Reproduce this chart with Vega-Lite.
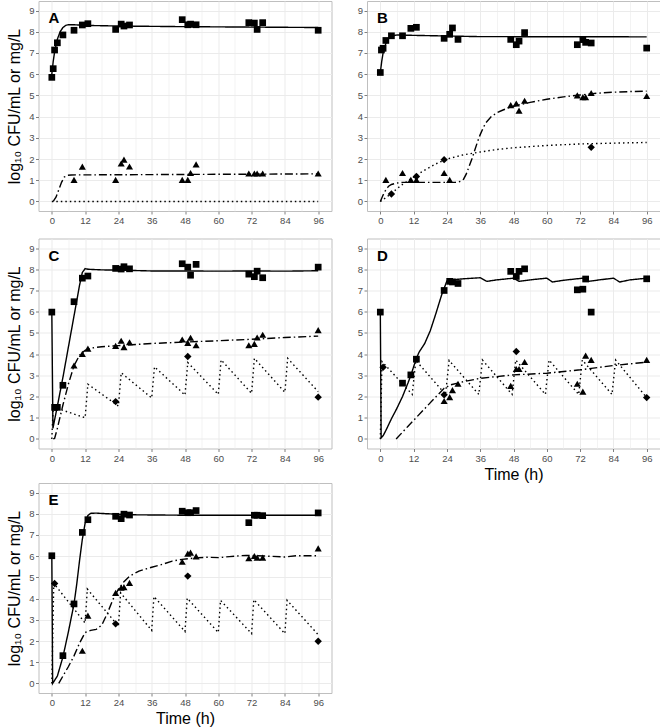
{
"$schema": "https://vega.github.io/schema/vega-lite/v6.json",
"padding": {"left": 5.5, "top": 0, "right": 0, "bottom": 0},
"background": "white",
"config": {
  "font": "Liberation Sans",
  "view": {"stroke": "#bfbfbf", "strokeWidth": 1},
  "axis": {"labelFont": "Liberation Sans", "labelFontSize": 9.5, "labelColor": "#4d4d4d", "tickColor": "#808080", "tickSize": 3, "tickCount": 100, "labelPadding": 1.5, "labelOverlap": false, "labelFlush": false, "domain": false, "gridColor": "#ebebeb", "titleFont": "Liberation Sans", "titleFontSize": 16, "titleFontWeight": "normal", "titleColor": "black"},
  "axisY": {"titlePadding": 6},
  "axisX": {"titlePadding": 3.5},
  "title": {"anchor": "start", "frame": "group", "font": "Liberation Sans", "fontSize": 15, "fontWeight": "bold", "color": "black", "offset": -25, "baseline": "alphabetic", "dx": 10}
},
"datasets": {
"ln": [
{"p":"A","s":"N","t":0,"v":6.0},{"p":"A","s":"N","t":0.5,"v":6.6},{"p":"A","s":"N","t":1,"v":7.05},{"p":"A","s":"N","t":2,"v":7.65},{"p":"A","s":"N","t":3,"v":8.0},{"p":"A","s":"N","t":4,"v":8.2},{"p":"A","s":"N","t":5,"v":8.3},{"p":"A","s":"N","t":6,"v":8.33},{"p":"A","s":"N","t":8,"v":8.33},{"p":"A","s":"N","t":12,"v":8.3},{"p":"A","s":"N","t":24,"v":8.27},{"p":"A","s":"N","t":48,"v":8.24},{"p":"A","s":"N","t":72,"v":8.22},{"p":"A","s":"N","t":96,"v":8.2},
{"p":"A","s":"R","t":0.5,"v":0},{"p":"A","s":"R","t":1.5,"v":0.2},{"p":"A","s":"R","t":2.5,"v":0.55},{"p":"A","s":"R","t":3.5,"v":0.9},{"p":"A","s":"R","t":4.5,"v":1.15},{"p":"A","s":"R","t":5.5,"v":1.23},{"p":"A","s":"R","t":7,"v":1.25},{"p":"A","s":"R","t":96,"v":1.3},
{"p":"A","s":"C","t":0,"v":0},{"p":"A","s":"C","t":96,"v":0},
{"p":"B","s":"N","t":0,"v":6.08},{"p":"B","s":"N","t":0.5,"v":6.6},{"p":"B","s":"N","t":1,"v":7.0},{"p":"B","s":"N","t":2,"v":7.45},{"p":"B","s":"N","t":3,"v":7.68},{"p":"B","s":"N","t":4,"v":7.8},{"p":"B","s":"N","t":6,"v":7.85},{"p":"B","s":"N","t":12,"v":7.83},{"p":"B","s":"N","t":24,"v":7.8},{"p":"B","s":"N","t":36,"v":7.77},{"p":"B","s":"N","t":96,"v":7.76},
{"p":"B","s":"R","t":0,"v":0},{"p":"B","s":"R","t":1,"v":0.3},{"p":"B","s":"R","t":2,"v":0.55},{"p":"B","s":"R","t":3,"v":0.72},{"p":"B","s":"R","t":4,"v":0.8},{"p":"B","s":"R","t":6,"v":0.87},{"p":"B","s":"R","t":8,"v":0.9},{"p":"B","s":"R","t":27,"v":0.9},{"p":"B","s":"R","t":28,"v":0.92},{"p":"B","s":"R","t":29,"v":0.95},{"p":"B","s":"R","t":30,"v":1.05},{"p":"B","s":"R","t":31,"v":1.3},{"p":"B","s":"R","t":32,"v":1.65},{"p":"B","s":"R","t":33,"v":2.0},{"p":"B","s":"R","t":34,"v":2.4},{"p":"B","s":"R","t":35,"v":2.8},{"p":"B","s":"R","t":36,"v":3.15},{"p":"B","s":"R","t":37,"v":3.45},{"p":"B","s":"R","t":38,"v":3.7},{"p":"B","s":"R","t":40,"v":4.0},{"p":"B","s":"R","t":42,"v":4.18},{"p":"B","s":"R","t":44,"v":4.3},{"p":"B","s":"R","t":47,"v":4.45},{"p":"B","s":"R","t":50,"v":4.55},{"p":"B","s":"R","t":54,"v":4.67},{"p":"B","s":"R","t":60,"v":4.82},{"p":"B","s":"R","t":66,"v":4.93},{"p":"B","s":"R","t":72,"v":5.02},{"p":"B","s":"R","t":78,"v":5.1},{"p":"B","s":"R","t":84,"v":5.15},{"p":"B","s":"R","t":90,"v":5.18},{"p":"B","s":"R","t":96,"v":5.2},
{"p":"B","s":"C","t":0,"v":0},{"p":"B","s":"C","t":2,"v":0.18},{"p":"B","s":"C","t":4,"v":0.38},{"p":"B","s":"C","t":6,"v":0.6},{"p":"B","s":"C","t":8,"v":0.8},{"p":"B","s":"C","t":10,"v":0.98},{"p":"B","s":"C","t":12,"v":1.15},{"p":"B","s":"C","t":16,"v":1.48},{"p":"B","s":"C","t":20,"v":1.77},{"p":"B","s":"C","t":24,"v":2.0},{"p":"B","s":"C","t":30,"v":2.2},{"p":"B","s":"C","t":36,"v":2.33},{"p":"B","s":"C","t":42,"v":2.45},{"p":"B","s":"C","t":48,"v":2.53},{"p":"B","s":"C","t":60,"v":2.64},{"p":"B","s":"C","t":72,"v":2.71},{"p":"B","s":"C","t":84,"v":2.75},{"p":"B","s":"C","t":96,"v":2.78},
{"p":"C","s":"N","t":0,"v":6.0},{"p":"C","s":"N","t":0.4,"v":0.5},{"p":"C","s":"N","t":2,"v":1.55},{"p":"C","s":"N","t":4,"v":2.9},{"p":"C","s":"N","t":6,"v":4.35},{"p":"C","s":"N","t":8,"v":5.8},{"p":"C","s":"N","t":10,"v":7.25},{"p":"C","s":"N","t":11,"v":7.85},{"p":"C","s":"N","t":12,"v":8.03},{"p":"C","s":"N","t":13,"v":8.0},{"p":"C","s":"N","t":18,"v":7.97},{"p":"C","s":"N","t":24,"v":7.96},{"p":"C","s":"N","t":36,"v":7.92},{"p":"C","s":"N","t":48,"v":7.92},{"p":"C","s":"N","t":60,"v":7.91},{"p":"C","s":"N","t":72,"v":7.92},{"p":"C","s":"N","t":84,"v":7.91},{"p":"C","s":"N","t":96,"v":7.93},
{"p":"C","s":"R","t":0.5,"v":0},{"p":"C","s":"R","t":1,"v":0.02},{"p":"C","s":"R","t":2,"v":0.5},{"p":"C","s":"R","t":4,"v":1.6},{"p":"C","s":"R","t":6,"v":2.6},{"p":"C","s":"R","t":8,"v":3.45},{"p":"C","s":"R","t":10,"v":3.95},{"p":"C","s":"R","t":12,"v":4.18},{"p":"C","s":"R","t":14,"v":4.28},{"p":"C","s":"R","t":18,"v":4.35},{"p":"C","s":"R","t":24,"v":4.4},{"p":"C","s":"R","t":36,"v":4.5},{"p":"C","s":"R","t":48,"v":4.57},{"p":"C","s":"R","t":60,"v":4.63},{"p":"C","s":"R","t":72,"v":4.7},{"p":"C","s":"R","t":84,"v":4.78},{"p":"C","s":"R","t":96,"v":4.85},
{"p":"C","s":"C","t":0,"v":0},{"p":"C","s":"C","t":0.5,"v":1.5},{"p":"C","s":"C","t":12,"v":1.0},{"p":"C","s":"C","t":13,"v":2.58},{"p":"C","s":"C","t":24,"v":1.55},{"p":"C","s":"C","t":25,"v":3.12},{"p":"C","s":"C","t":36,"v":1.93},{"p":"C","s":"C","t":37,"v":3.4},{"p":"C","s":"C","t":48,"v":2.07},{"p":"C","s":"C","t":49,"v":3.6},{"p":"C","s":"C","t":60,"v":2.1},{"p":"C","s":"C","t":61,"v":3.73},{"p":"C","s":"C","t":72,"v":2.15},{"p":"C","s":"C","t":73,"v":3.8},{"p":"C","s":"C","t":84,"v":2.2},{"p":"C","s":"C","t":85,"v":3.8},{"p":"C","s":"C","t":96,"v":2.23},
{"p":"D","s":"N","t":0,"v":6.0},{"p":"D","s":"N","t":0.3,"v":0.05},{"p":"D","s":"N","t":1,"v":0.15},{"p":"D","s":"N","t":2,"v":0.4},{"p":"D","s":"N","t":4,"v":0.95},{"p":"D","s":"N","t":6,"v":1.45},{"p":"D","s":"N","t":8,"v":2.0},{"p":"D","s":"N","t":10,"v":2.65},{"p":"D","s":"N","t":11,"v":3.0},{"p":"D","s":"N","t":12,"v":3.4},{"p":"D","s":"N","t":13,"v":3.8},{"p":"D","s":"N","t":14,"v":4.1},{"p":"D","s":"N","t":16,"v":4.5},{"p":"D","s":"N","t":18,"v":5.1},{"p":"D","s":"N","t":20,"v":5.9},{"p":"D","s":"N","t":22,"v":6.75},{"p":"D","s":"N","t":23,"v":7.1},{"p":"D","s":"N","t":24,"v":7.45},{"p":"D","s":"N","t":25,"v":7.5},{"p":"D","s":"N","t":30,"v":7.55},{"p":"D","s":"N","t":36,"v":7.6},{"p":"D","s":"N","t":38.4,"v":7.43},{"p":"D","s":"N","t":42,"v":7.5},{"p":"D","s":"N","t":48,"v":7.58},{"p":"D","s":"N","t":50,"v":7.43},{"p":"D","s":"N","t":54,"v":7.5},{"p":"D","s":"N","t":60,"v":7.58},{"p":"D","s":"N","t":62,"v":7.4},{"p":"D","s":"N","t":66,"v":7.48},{"p":"D","s":"N","t":73,"v":7.58},{"p":"D","s":"N","t":75,"v":7.43},{"p":"D","s":"N","t":79,"v":7.5},{"p":"D","s":"N","t":84,"v":7.58},{"p":"D","s":"N","t":86.3,"v":7.4},{"p":"D","s":"N","t":90,"v":7.5},{"p":"D","s":"N","t":96,"v":7.58},
{"p":"D","s":"R","t":5.7,"v":0},{"p":"D","s":"R","t":10,"v":0.6},{"p":"D","s":"R","t":15,"v":1.29},{"p":"D","s":"R","t":20,"v":1.98},{"p":"D","s":"R","t":23,"v":2.39},{"p":"D","s":"R","t":25.3,"v":2.55},{"p":"D","s":"R","t":30,"v":2.7},{"p":"D","s":"R","t":36,"v":2.86},{"p":"D","s":"R","t":48,"v":3.02},{"p":"D","s":"R","t":60,"v":3.1},{"p":"D","s":"R","t":72,"v":3.26},{"p":"D","s":"R","t":84,"v":3.46},{"p":"D","s":"R","t":96,"v":3.62},
{"p":"D","s":"C","t":0,"v":0},{"p":"D","s":"C","t":0.6,"v":3.65},{"p":"D","s":"C","t":11.5,"v":2.1},{"p":"D","s":"C","t":12.8,"v":3.7},{"p":"D","s":"C","t":23.5,"v":2.1},{"p":"D","s":"C","t":24.8,"v":3.7},{"p":"D","s":"C","t":35.5,"v":2.1},{"p":"D","s":"C","t":36.8,"v":3.72},{"p":"D","s":"C","t":47.5,"v":2.1},{"p":"D","s":"C","t":48.8,"v":3.72},{"p":"D","s":"C","t":59.5,"v":2.1},{"p":"D","s":"C","t":60.8,"v":3.72},{"p":"D","s":"C","t":71.5,"v":2.1},{"p":"D","s":"C","t":72.8,"v":3.72},{"p":"D","s":"C","t":83.5,"v":2.1},{"p":"D","s":"C","t":84.8,"v":3.72},{"p":"D","s":"C","t":96,"v":1.95},
{"p":"E","s":"N","t":0,"v":6.02},{"p":"E","s":"N","t":0.3,"v":0},{"p":"E","s":"N","t":2,"v":0.35},{"p":"E","s":"N","t":4,"v":1.25},{"p":"E","s":"N","t":6,"v":2.45},{"p":"E","s":"N","t":8,"v":3.75},{"p":"E","s":"N","t":9,"v":4.7},{"p":"E","s":"N","t":10,"v":5.8},{"p":"E","s":"N","t":11,"v":6.8},{"p":"E","s":"N","t":12,"v":7.55},{"p":"E","s":"N","t":13,"v":7.92},{"p":"E","s":"N","t":14,"v":8.02},{"p":"E","s":"N","t":16,"v":8.03},{"p":"E","s":"N","t":20,"v":8.0},{"p":"E","s":"N","t":30,"v":7.95},{"p":"E","s":"N","t":48,"v":7.93},{"p":"E","s":"N","t":96,"v":7.93},
{"p":"E","s":"R","t":2.5,"v":0},{"p":"E","s":"R","t":4,"v":0.35},{"p":"E","s":"R","t":6,"v":0.8},{"p":"E","s":"R","t":8,"v":1.3},{"p":"E","s":"R","t":10,"v":1.9},{"p":"E","s":"R","t":12,"v":2.4},{"p":"E","s":"R","t":14,"v":2.5},{"p":"E","s":"R","t":16,"v":2.55},{"p":"E","s":"R","t":18,"v":2.75},{"p":"E","s":"R","t":20,"v":3.3},{"p":"E","s":"R","t":22,"v":3.95},{"p":"E","s":"R","t":24,"v":4.45},{"p":"E","s":"R","t":26,"v":4.8},{"p":"E","s":"R","t":28,"v":5.05},{"p":"E","s":"R","t":31.4,"v":5.3},{"p":"E","s":"R","t":36,"v":5.48},{"p":"E","s":"R","t":40,"v":5.62},{"p":"E","s":"R","t":43.4,"v":5.77},{"p":"E","s":"R","t":47,"v":5.85},{"p":"E","s":"R","t":52,"v":5.92},{"p":"E","s":"R","t":56,"v":5.95},{"p":"E","s":"R","t":60,"v":5.93},{"p":"E","s":"R","t":64,"v":5.98},{"p":"E","s":"R","t":70,"v":6.04},{"p":"E","s":"R","t":78,"v":6.0},{"p":"E","s":"R","t":84,"v":5.96},{"p":"E","s":"R","t":88,"v":6.02},{"p":"E","s":"R","t":96,"v":6.02},
{"p":"E","s":"C","t":0,"v":0},{"p":"E","s":"C","t":0.7,"v":4.72},{"p":"E","s":"C","t":12,"v":2.85},{"p":"E","s":"C","t":12.8,"v":4.45},{"p":"E","s":"C","t":24,"v":2.7},{"p":"E","s":"C","t":24.8,"v":4.27},{"p":"E","s":"C","t":36,"v":2.5},{"p":"E","s":"C","t":36.8,"v":4.1},{"p":"E","s":"C","t":48,"v":2.45},{"p":"E","s":"C","t":48.8,"v":4.02},{"p":"E","s":"C","t":60,"v":2.4},{"p":"E","s":"C","t":60.8,"v":3.92},{"p":"E","s":"C","t":72,"v":2.35},{"p":"E","s":"C","t":72.8,"v":3.95},{"p":"E","s":"C","t":84,"v":2.35},{"p":"E","s":"C","t":84.8,"v":3.92},{"p":"E","s":"C","t":96,"v":2.3}
],
"pt": [
{"p":"A","s":"N","t":0,"v":5.85},{"p":"A","s":"N","t":0.5,"v":6.26},{"p":"A","s":"N","t":1,"v":7.14},{"p":"A","s":"N","t":2,"v":7.48},{"p":"A","s":"N","t":4,"v":7.85},{"p":"A","s":"N","t":8,"v":8.07},{"p":"A","s":"N","t":11,"v":8.32},{"p":"A","s":"N","t":13,"v":8.38},{"p":"A","s":"N","t":23,"v":8.11},{"p":"A","s":"N","t":25,"v":8.36},{"p":"A","s":"N","t":26,"v":8.27},{"p":"A","s":"N","t":28,"v":8.32},{"p":"A","s":"N","t":47,"v":8.57},{"p":"A","s":"N","t":49,"v":8.33},{"p":"A","s":"N","t":50,"v":8.36},{"p":"A","s":"N","t":52,"v":8.33},{"p":"A","s":"N","t":71,"v":8.43},{"p":"A","s":"N","t":73,"v":8.41},{"p":"A","s":"N","t":74,"v":8.11},{"p":"A","s":"N","t":76,"v":8.43},{"p":"A","s":"N","t":96,"v":8.07},
{"p":"A","s":"R","t":8,"v":1.02},{"p":"A","s":"R","t":11,"v":1.64},{"p":"A","s":"R","t":23,"v":1.02},{"p":"A","s":"R","t":25,"v":1.79},{"p":"A","s":"R","t":26,"v":1.97},{"p":"A","s":"R","t":28,"v":1.65},{"p":"A","s":"R","t":47,"v":1.02},{"p":"A","s":"R","t":49,"v":1.02},{"p":"A","s":"R","t":50,"v":1.34},{"p":"A","s":"R","t":52,"v":1.75},{"p":"A","s":"R","t":71,"v":1.32},{"p":"A","s":"R","t":73,"v":1.32},{"p":"A","s":"R","t":74,"v":1.32},{"p":"A","s":"R","t":76,"v":1.32},{"p":"A","s":"R","t":96,"v":1.32},
{"p":"B","s":"N","t":0,"v":6.08},{"p":"B","s":"N","t":0.4,"v":7.14},{"p":"B","s":"N","t":1,"v":7.22},{"p":"B","s":"N","t":2,"v":7.59},{"p":"B","s":"N","t":4,"v":7.81},{"p":"B","s":"N","t":8,"v":7.81},{"p":"B","s":"N","t":11,"v":8.16},{"p":"B","s":"N","t":13,"v":8.21},{"p":"B","s":"N","t":23,"v":7.69},{"p":"B","s":"N","t":25,"v":7.88},{"p":"B","s":"N","t":26,"v":8.18},{"p":"B","s":"N","t":28,"v":7.64},{"p":"B","s":"N","t":47,"v":7.64},{"p":"B","s":"N","t":49,"v":7.39},{"p":"B","s":"N","t":50,"v":7.56},{"p":"B","s":"N","t":52,"v":7.96},{"p":"B","s":"N","t":71,"v":7.39},{"p":"B","s":"N","t":73,"v":7.63},{"p":"B","s":"N","t":74,"v":7.5},{"p":"B","s":"N","t":76,"v":7.47},{"p":"B","s":"N","t":96,"v":7.23},
{"p":"B","s":"R","t":2,"v":1.02},{"p":"B","s":"R","t":8,"v":1.34},{"p":"B","s":"R","t":11,"v":1.02},{"p":"B","s":"R","t":13,"v":1.02},{"p":"B","s":"R","t":23,"v":1.34},{"p":"B","s":"R","t":25,"v":1.02},{"p":"B","s":"R","t":47,"v":4.54},{"p":"B","s":"R","t":49,"v":4.62},{"p":"B","s":"R","t":50,"v":4.28},{"p":"B","s":"R","t":52,"v":4.75},{"p":"B","s":"R","t":71,"v":5.0},{"p":"B","s":"R","t":73,"v":4.92},{"p":"B","s":"R","t":74,"v":4.92},{"p":"B","s":"R","t":76,"v":5.11},{"p":"B","s":"R","t":96,"v":4.97},
{"p":"B","s":"C","t":4,"v":0.35},{"p":"B","s":"C","t":13,"v":1.18},{"p":"B","s":"C","t":23,"v":1.97},{"p":"B","s":"C","t":76,"v":2.55},
{"p":"C","s":"N","t":0,"v":5.98},{"p":"C","s":"N","t":1,"v":1.49},{"p":"C","s":"N","t":2,"v":1.49},{"p":"C","s":"N","t":4,"v":2.53},{"p":"C","s":"N","t":8,"v":6.47},{"p":"C","s":"N","t":11,"v":7.58},{"p":"C","s":"N","t":13,"v":7.68},{"p":"C","s":"N","t":23,"v":8.04},{"p":"C","s":"N","t":25,"v":8.01},{"p":"C","s":"N","t":26,"v":8.12},{"p":"C","s":"N","t":28,"v":8.02},{"p":"C","s":"N","t":47,"v":8.26},{"p":"C","s":"N","t":49,"v":8.1},{"p":"C","s":"N","t":50,"v":7.72},{"p":"C","s":"N","t":52,"v":8.23},{"p":"C","s":"N","t":71,"v":7.77},{"p":"C","s":"N","t":73,"v":7.65},{"p":"C","s":"N","t":74,"v":7.91},{"p":"C","s":"N","t":76,"v":7.6},{"p":"C","s":"N","t":96,"v":8.1},
{"p":"C","s":"R","t":8,"v":3.46},{"p":"C","s":"R","t":11,"v":4.01},{"p":"C","s":"R","t":13,"v":4.26},{"p":"C","s":"R","t":23,"v":4.39},{"p":"C","s":"R","t":25,"v":4.63},{"p":"C","s":"R","t":26,"v":4.33},{"p":"C","s":"R","t":28,"v":4.56},{"p":"C","s":"R","t":47,"v":4.69},{"p":"C","s":"R","t":49,"v":4.53},{"p":"C","s":"R","t":50,"v":4.77},{"p":"C","s":"R","t":52,"v":4.42},{"p":"C","s":"R","t":71,"v":4.42},{"p":"C","s":"R","t":73,"v":4.48},{"p":"C","s":"R","t":74,"v":4.78},{"p":"C","s":"R","t":76,"v":4.91},{"p":"C","s":"R","t":96,"v":5.13},
{"p":"C","s":"C","t":23,"v":1.76},{"p":"C","s":"C","t":49,"v":3.89},{"p":"C","s":"C","t":96,"v":1.97},
{"p":"D","s":"N","t":0,"v":5.98},{"p":"D","s":"N","t":8,"v":2.63},{"p":"D","s":"N","t":11,"v":3.02},{"p":"D","s":"N","t":13,"v":3.76},{"p":"D","s":"N","t":23,"v":7.0},{"p":"D","s":"N","t":25,"v":7.43},{"p":"D","s":"N","t":26,"v":7.4},{"p":"D","s":"N","t":28,"v":7.33},{"p":"D","s":"N","t":47,"v":7.9},{"p":"D","s":"N","t":49,"v":7.66},{"p":"D","s":"N","t":50,"v":7.9},{"p":"D","s":"N","t":52,"v":8.02},{"p":"D","s":"N","t":71,"v":7.03},{"p":"D","s":"N","t":73,"v":7.06},{"p":"D","s":"N","t":74,"v":7.54},{"p":"D","s":"N","t":76,"v":5.98},{"p":"D","s":"N","t":96,"v":7.55},
{"p":"D","s":"R","t":23,"v":1.79},{"p":"D","s":"R","t":25,"v":1.97},{"p":"D","s":"R","t":26,"v":2.3},{"p":"D","s":"R","t":28,"v":2.6},{"p":"D","s":"R","t":47,"v":2.5},{"p":"D","s":"R","t":49,"v":3.3},{"p":"D","s":"R","t":50,"v":3.3},{"p":"D","s":"R","t":52,"v":3.63},{"p":"D","s":"R","t":71,"v":2.6},{"p":"D","s":"R","t":73,"v":2.23},{"p":"D","s":"R","t":74,"v":3.93},{"p":"D","s":"R","t":76,"v":3.73},{"p":"D","s":"R","t":96,"v":3.73},
{"p":"D","s":"C","t":1,"v":3.38},{"p":"D","s":"C","t":23,"v":2.08},{"p":"D","s":"C","t":49,"v":4.12},{"p":"D","s":"C","t":96,"v":1.95},
{"p":"E","s":"N","t":0,"v":6.02},{"p":"E","s":"N","t":4,"v":1.31},{"p":"E","s":"N","t":8,"v":3.75},{"p":"E","s":"N","t":11,"v":7.12},{"p":"E","s":"N","t":13,"v":7.72},{"p":"E","s":"N","t":23,"v":7.88},{"p":"E","s":"N","t":25,"v":7.77},{"p":"E","s":"N","t":26,"v":7.98},{"p":"E","s":"N","t":28,"v":7.94},{"p":"E","s":"N","t":47,"v":8.12},{"p":"E","s":"N","t":49,"v":8.05},{"p":"E","s":"N","t":50,"v":8.05},{"p":"E","s":"N","t":52,"v":8.15},{"p":"E","s":"N","t":71,"v":7.58},{"p":"E","s":"N","t":73,"v":7.93},{"p":"E","s":"N","t":74,"v":7.93},{"p":"E","s":"N","t":76,"v":7.91},{"p":"E","s":"N","t":96,"v":8.04},
{"p":"E","s":"R","t":11,"v":1.54},{"p":"E","s":"R","t":13,"v":3.2},{"p":"E","s":"R","t":23,"v":4.27},{"p":"E","s":"R","t":25,"v":4.51},{"p":"E","s":"R","t":26,"v":4.54},{"p":"E","s":"R","t":28,"v":4.74},{"p":"E","s":"R","t":47,"v":5.74},{"p":"E","s":"R","t":49,"v":6.12},{"p":"E","s":"R","t":50,"v":6.17},{"p":"E","s":"R","t":52,"v":5.99},{"p":"E","s":"R","t":71,"v":5.9},{"p":"E","s":"R","t":73,"v":6.01},{"p":"E","s":"R","t":74,"v":5.93},{"p":"E","s":"R","t":76,"v":5.93},{"p":"E","s":"R","t":96,"v":6.37},
{"p":"E","s":"C","t":1,"v":4.71},{"p":"E","s":"C","t":23,"v":2.81},{"p":"E","s":"C","t":49,"v":5.06},{"p":"E","s":"C","t":96,"v":1.99}
]
},
"vconcat": [
{"vconcat": [
{"hconcat": [
{"width": 293, "height": 210, "title": {"text": "A"},
 "layer": [
  {"data": {"name": "ln"}, "transform": [{"filter": "datum.p === 'A'"}], "mark": {"type": "line", "color": "black", "strokeWidth": 1.4},
   "encoding": {
    "x": {"field": "t", "type": "quantitative", "scale": {"domain": [-4.8, 100.8], "nice": false, "zero": false}, "axis": {"title": null, "values": [0,6,12,18,24,30,36,42,48,54,60,66,72,78,84,90,96], "labelExpr": "datum.value % 12 === 0 ? datum.label : ''", "tickOpacity": {"condition": {"test": "datum.value % 12 === 0", "value": 1}, "value": 0}, "gridWidth": {"condition": {"test": "datum.value % 12 === 0", "value": 1}, "value": 0.6}}},
    "y": {"field": "v", "type": "quantitative", "scale": {"domain": [-0.45, 9.45], "nice": false, "zero": false}, "axis": {"title": "log₁₀ CFU/mL or mg/L", "format": "d", "values": [0,0.5,1,1.5,2,2.5,3,3.5,4,4.5,5,5.5,6,6.5,7,7.5,8,8.5,9], "labelExpr": "datum.value % 1 === 0 ? datum.label : ''", "tickOpacity": {"condition": {"test": "datum.value % 1 === 0", "value": 1}, "value": 0}, "gridWidth": {"condition": {"test": "datum.value % 1 === 0", "value": 1}, "value": 0.6}}},
    "strokeDash": {"field": "s", "type": "nominal", "scale": {"domain": ["N","R","C"], "range": [[1,0],[8,3,1.5,3],[1.5,3]]}, "legend": null}}},
  {"data": {"name": "pt"}, "transform": [{"filter": "datum.p === 'A'"}], "mark": {"type": "point", "filled": true, "color": "black", "opacity": 1},
   "encoding": {"x": {"field": "t", "type": "quantitative"}, "y": {"field": "v", "type": "quantitative"},
    "shape": {"field": "s", "type": "nominal", "scale": {"domain": ["N","R","C"], "range": ["square","triangle-up","diamond"]}, "legend": null},
    "size": {"field": "s", "type": "nominal", "scale": {"domain": ["N","R","C"], "range": [45,55,22]}, "legend": null}}}
 ]},
{"width": 293, "height": 210, "title": {"text": "B"},
 "layer": [
  {"data": {"name": "ln"}, "transform": [{"filter": "datum.p === 'B'"}], "mark": {"type": "line", "color": "black", "strokeWidth": 1.4},
   "encoding": {
    "x": {"field": "t", "type": "quantitative", "scale": {"domain": [-4.8, 100.8], "nice": false, "zero": false}, "axis": {"title": null, "values": [0,6,12,18,24,30,36,42,48,54,60,66,72,78,84,90,96], "labelExpr": "datum.value % 12 === 0 ? datum.label : ''", "tickOpacity": {"condition": {"test": "datum.value % 12 === 0", "value": 1}, "value": 0}, "gridWidth": {"condition": {"test": "datum.value % 12 === 0", "value": 1}, "value": 0.6}}},
    "y": {"field": "v", "type": "quantitative", "scale": {"domain": [-0.45, 9.45], "nice": false, "zero": false}, "axis": {"title": null, "format": "d", "values": [0,0.5,1,1.5,2,2.5,3,3.5,4,4.5,5,5.5,6,6.5,7,7.5,8,8.5,9], "labelExpr": "datum.value % 1 === 0 ? datum.label : ''", "tickOpacity": {"condition": {"test": "datum.value % 1 === 0", "value": 1}, "value": 0}, "gridWidth": {"condition": {"test": "datum.value % 1 === 0", "value": 1}, "value": 0.6}}},
    "strokeDash": {"field": "s", "type": "nominal", "scale": {"domain": ["N","R","C"], "range": [[1,0],[8,3,1.5,3],[1.5,3]]}, "legend": null}}},
  {"data": {"name": "pt"}, "transform": [{"filter": "datum.p === 'B'"}], "mark": {"type": "point", "filled": true, "color": "black", "opacity": 1},
   "encoding": {"x": {"field": "t", "type": "quantitative"}, "y": {"field": "v", "type": "quantitative"},
    "shape": {"field": "s", "type": "nominal", "scale": {"domain": ["N","R","C"], "range": ["square","triangle-up","diamond"]}, "legend": null},
    "size": {"field": "s", "type": "nominal", "scale": {"domain": ["N","R","C"], "range": [45,55,22]}, "legend": null}}}
 ]}
], "spacing": 23.5},
{"hconcat": [
{"width": 293, "height": 210, "title": {"text": "C"},
 "layer": [
  {"data": {"name": "ln"}, "transform": [{"filter": "datum.p === 'C'"}], "mark": {"type": "line", "color": "black", "strokeWidth": 1.4},
   "encoding": {
    "x": {"field": "t", "type": "quantitative", "scale": {"domain": [-4.8, 100.8], "nice": false, "zero": false}, "axis": {"title": null, "values": [0,6,12,18,24,30,36,42,48,54,60,66,72,78,84,90,96], "labelExpr": "datum.value % 12 === 0 ? datum.label : ''", "tickOpacity": {"condition": {"test": "datum.value % 12 === 0", "value": 1}, "value": 0}, "gridWidth": {"condition": {"test": "datum.value % 12 === 0", "value": 1}, "value": 0.6}}},
    "y": {"field": "v", "type": "quantitative", "scale": {"domain": [-0.45, 9.45], "nice": false, "zero": false}, "axis": {"title": "log₁₀ CFU/mL or mg/L", "format": "d", "values": [0,0.5,1,1.5,2,2.5,3,3.5,4,4.5,5,5.5,6,6.5,7,7.5,8,8.5,9], "labelExpr": "datum.value % 1 === 0 ? datum.label : ''", "tickOpacity": {"condition": {"test": "datum.value % 1 === 0", "value": 1}, "value": 0}, "gridWidth": {"condition": {"test": "datum.value % 1 === 0", "value": 1}, "value": 0.6}}},
    "strokeDash": {"field": "s", "type": "nominal", "scale": {"domain": ["N","R","C"], "range": [[1,0],[8,3,1.5,3],[1.5,3]]}, "legend": null}}},
  {"data": {"name": "pt"}, "transform": [{"filter": "datum.p === 'C'"}], "mark": {"type": "point", "filled": true, "color": "black", "opacity": 1},
   "encoding": {"x": {"field": "t", "type": "quantitative"}, "y": {"field": "v", "type": "quantitative"},
    "shape": {"field": "s", "type": "nominal", "scale": {"domain": ["N","R","C"], "range": ["square","triangle-up","diamond"]}, "legend": null},
    "size": {"field": "s", "type": "nominal", "scale": {"domain": ["N","R","C"], "range": [45,55,22]}, "legend": null}}}
 ]},
{"width": 293, "height": 210, "title": {"text": "D"},
 "layer": [
  {"data": {"name": "ln"}, "transform": [{"filter": "datum.p === 'D'"}], "mark": {"type": "line", "color": "black", "strokeWidth": 1.4},
   "encoding": {
    "x": {"field": "t", "type": "quantitative", "scale": {"domain": [-4.8, 100.8], "nice": false, "zero": false}, "axis": {"title": "Time (h)", "values": [0,6,12,18,24,30,36,42,48,54,60,66,72,78,84,90,96], "labelExpr": "datum.value % 12 === 0 ? datum.label : ''", "tickOpacity": {"condition": {"test": "datum.value % 12 === 0", "value": 1}, "value": 0}, "gridWidth": {"condition": {"test": "datum.value % 12 === 0", "value": 1}, "value": 0.6}}},
    "y": {"field": "v", "type": "quantitative", "scale": {"domain": [-0.45, 9.45], "nice": false, "zero": false}, "axis": {"title": null, "format": "d", "values": [0,0.5,1,1.5,2,2.5,3,3.5,4,4.5,5,5.5,6,6.5,7,7.5,8,8.5,9], "labelExpr": "datum.value % 1 === 0 ? datum.label : ''", "tickOpacity": {"condition": {"test": "datum.value % 1 === 0", "value": 1}, "value": 0}, "gridWidth": {"condition": {"test": "datum.value % 1 === 0", "value": 1}, "value": 0.6}}},
    "strokeDash": {"field": "s", "type": "nominal", "scale": {"domain": ["N","R","C"], "range": [[1,0],[8,3,1.5,3],[1.5,3]]}, "legend": null}}},
  {"data": {"name": "pt"}, "transform": [{"filter": "datum.p === 'D'"}], "mark": {"type": "point", "filled": true, "color": "black", "opacity": 1},
   "encoding": {"x": {"field": "t", "type": "quantitative"}, "y": {"field": "v", "type": "quantitative"},
    "shape": {"field": "s", "type": "nominal", "scale": {"domain": ["N","R","C"], "range": ["square","triangle-up","diamond"]}, "legend": null},
    "size": {"field": "s", "type": "nominal", "scale": {"domain": ["N","R","C"], "range": [45,55,22]}, "legend": null}}}
 ]}
], "spacing": 23.5}
], "spacing": 11.5},
{"width": 293, "height": 210, "title": {"text": "E"},
 "layer": [
  {"data": {"name": "ln"}, "transform": [{"filter": "datum.p === 'E'"}], "mark": {"type": "line", "color": "black", "strokeWidth": 1.4},
   "encoding": {
    "x": {"field": "t", "type": "quantitative", "scale": {"domain": [-4.8, 100.8], "nice": false, "zero": false}, "axis": {"title": "Time (h)", "values": [0,6,12,18,24,30,36,42,48,54,60,66,72,78,84,90,96], "labelExpr": "datum.value % 12 === 0 ? datum.label : ''", "tickOpacity": {"condition": {"test": "datum.value % 12 === 0", "value": 1}, "value": 0}, "gridWidth": {"condition": {"test": "datum.value % 12 === 0", "value": 1}, "value": 0.6}}},
    "y": {"field": "v", "type": "quantitative", "scale": {"domain": [-0.45, 9.45], "nice": false, "zero": false}, "axis": {"title": "log₁₀ CFU/mL or mg/L", "format": "d", "values": [0,0.5,1,1.5,2,2.5,3,3.5,4,4.5,5,5.5,6,6.5,7,7.5,8,8.5,9], "labelExpr": "datum.value % 1 === 0 ? datum.label : ''", "tickOpacity": {"condition": {"test": "datum.value % 1 === 0", "value": 1}, "value": 0}, "gridWidth": {"condition": {"test": "datum.value % 1 === 0", "value": 1}, "value": 0.6}}},
    "strokeDash": {"field": "s", "type": "nominal", "scale": {"domain": ["N","R","C"], "range": [[1,0],[8,3,1.5,3],[1.5,3]]}, "legend": null}}},
  {"data": {"name": "pt"}, "transform": [{"filter": "datum.p === 'E'"}], "mark": {"type": "point", "filled": true, "color": "black", "opacity": 1},
   "encoding": {"x": {"field": "t", "type": "quantitative"}, "y": {"field": "v", "type": "quantitative"},
    "shape": {"field": "s", "type": "nominal", "scale": {"domain": ["N","R","C"], "range": ["square","triangle-up","diamond"]}, "legend": null},
    "size": {"field": "s", "type": "nominal", "scale": {"domain": ["N","R","C"], "range": [45,55,22]}, "legend": null}}}
 ]}
], "spacing": -7
}
